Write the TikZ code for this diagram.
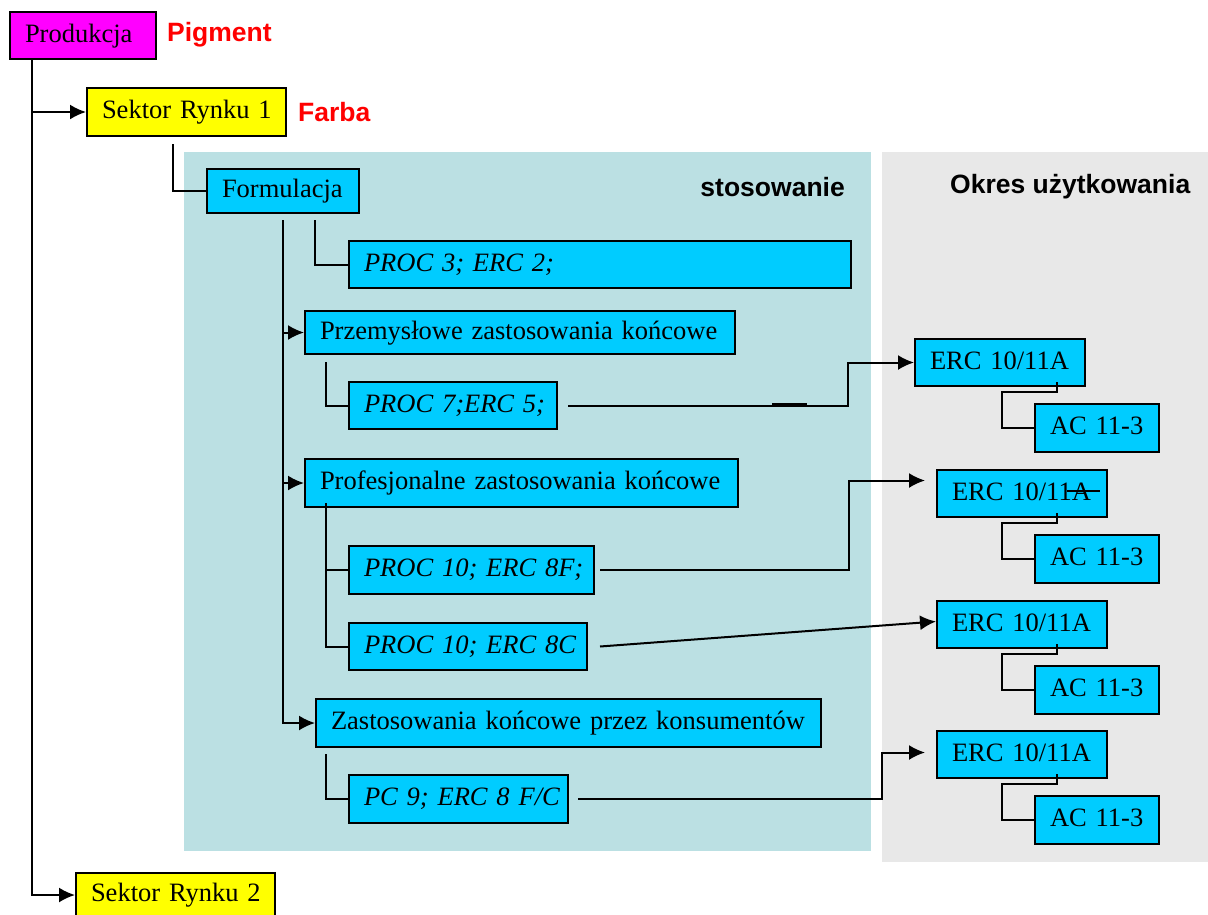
\documentclass[tikz,border=0pt]{standalone}
\usepackage{fontspec}
\setmainfont{Liberation Serif}
\setsansfont{Liberation Sans}
\usetikzlibrary{arrows.meta}

\definecolor{boxcyan}{HTML}{00CCFF}
\definecolor{boxmagenta}{HTML}{FF00FF}
\definecolor{boxyellow}{HTML}{FFFF00}
\definecolor{panelteal}{HTML}{BBE0E3}
\definecolor{panelgrey}{HTML}{E8E8E8}
\definecolor{labelred}{HTML}{FF0000}

\tikzset{
  cbox/.style={draw, line width=2pt, fill=boxcyan, anchor=north west,
    inner xsep=15pt, inner ysep=0pt, minimum height=#1,
    text height=18pt, text depth=5pt,
    execute at begin node=\hbox\bgroup, execute at end node=\egroup},
  cbox/.default=47pt,
  headlbl/.style={font=\sffamily\bfseries\fontsize{26.5}{30}\selectfont, inner sep=0pt},
  redlbl/.style={headlbl, text=labelred, anchor=west},
  conn/.style={line width=2pt},
  tip/.style={conn, -{Latex[length=16pt, width=15pt]}}
}

\begin{document}
\begin{tikzpicture}[x=1pt, y=-1pt, font=\fontsize{26.5}{30}\selectfont]
            \clip (0,0) rectangle (1208,914);
            \fill[white] (0,0) rectangle (1208,914);

            % panels
            \fill[panelteal] (184,152) rectangle (871,851);
            \fill[panelgrey] (882,152) rectangle (1208,862);
            \node[headlbl, anchor=east] (stos) at (845,187) {stosowanie};
            \node[headlbl, anchor=west] (okres) at (950,187) {Okres użytkowania};

            \node[cbox, fill=boxmagenta, text width=116pt] (prod) at (9,11) {Produkcja};
            \node[redlbl] (pigment) at (167,35) {Pigment};
            \node[cbox=48pt, fill=boxyellow, text width=169pt] (sek1) at (86,87) {Sektor Rynku 1};
            \node[redlbl] (farba) at (298,112) {Farba};
            \node[cbox=44pt, fill=boxyellow, text width=169pt] (sek2) at (75,872) {Sektor Rynku 2};
            \node[cbox=44pt, text width=122pt] (form) at (206,168) {Formulacja};

            \node[cbox, text width=472pt] (proc3) at (348,240) {\textit{PROC 3; ERC 2;}};
            \node[cbox=43pt, text width=400pt] (przem) at (304,310) {Przemysłowe zastosowania końcowe};
            \node[cbox, text width=178pt] (proc7) at (348,381) {\textit{PROC 7;ERC 5;}};
            \node[cbox=48pt, text width=403pt] (prof) at (304,458) {Profesjonalne zastosowania końcowe};
            \node[cbox=48pt, text width=215pt] (proc10f) at (348,545) {\textit{PROC 10; ERC 8F;}};
            \node[cbox, text width=208pt] (proc10c) at (348,622) {\textit{PROC 10; ERC 8C}};
            \node[cbox=48pt, text width=475pt] (zast) at (315,698) {Zastosowania końcowe przez konsumentów};
            \node[cbox=48pt, text width=189pt] (pc9) at (348,774) {\textit{PC 9; ERC 8 F/C}};

            % okres uzytkowania
            \foreach \n/\ex/\ey in {1/914/338, 2/936/469, 3/936/600, 4/936/730} {
                \node[cbox, text width=140pt] (erc\n) at (\ex,\ey) {ERC 10/11A};
                \node[cbox=48pt, text width=94pt] (ac\n) at (1034,\ey+65) {AC 11-3};
                \draw[conn] (1057,\ey+44) |- (1002,\ey+54) |- (ac\n.west);
            }
            \draw[conn] (1067,491) -- (1100,491);

            \draw[tip] ([xshift=23pt]prod.south west) |- (sek1.west);
            \draw[tip] ([xshift=23pt]prod.south west) |- (sek2.west);
            \draw[conn] ([xshift=87pt,yshift=-7pt]sek1.south west) |- (form.west);

            \draw[tip] ([xshift=77pt,yshift=-6pt]form.south west) |- (przem.west);
            \draw[tip] ([xshift=77pt,yshift=-6pt]form.south west) |- (prof.west);
            \draw[tip] ([xshift=77pt,yshift=-6pt]form.south west) |- (zast.west);
            \draw[conn] ([xshift=109pt,yshift=-6pt]form.south west) |- (proc3.west);

            \draw[conn] ([xshift=22pt,yshift=-7pt]przem.south west) |- (proc7.west);
            \draw[conn] ([xshift=22pt,yshift=5pt]prof.south west) |- (proc10f.west);
            \draw[conn] ([xshift=22pt,yshift=5pt]prof.south west) |- (proc10c.west);
            \draw[conn] ([xshift=11pt,yshift=-6pt]zast.south west) |- (pc9.west);

            \draw[tip] ([xshift=10pt]proc7.east) -| ([xshift=-66pt]erc1.west) -- (erc1.west);
            \draw[line width=3.5pt] (772,404.5) -- (807,404.5);
            \draw[tip] ([xshift=5pt]proc10f.east) -| ([xshift=-87pt,yshift=13pt]erc2.west)
                -- ([xshift=-11pt,yshift=13pt]erc2.west);
            \draw[tip] ([xshift=12pt]proc10c.east) -- ([yshift=3pt]erc3.west);
            \draw[tip] ([xshift=9pt]pc9.east) -| ([xshift=-54pt,yshift=2pt]erc4.west)
                -- ([xshift=-11pt,yshift=2pt]erc4.west);
\end{tikzpicture}
\end{document}
